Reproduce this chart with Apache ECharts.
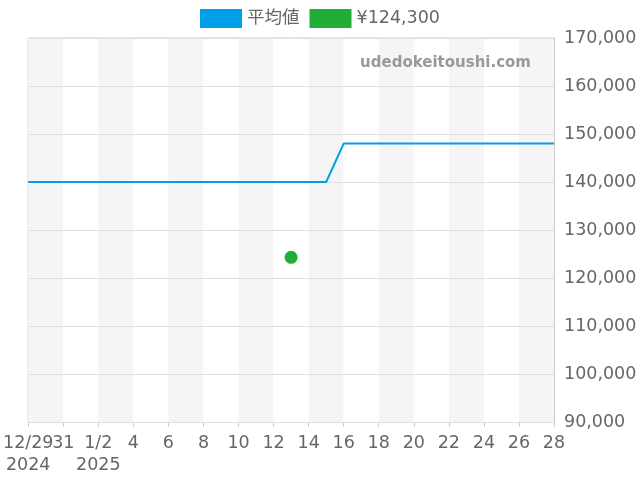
<!DOCTYPE html>
<html><head><meta charset="utf-8">
<script src="https://cdn.jsdelivr.net/npm/echarts@6/dist/echarts.min.js"></script>
<style>html,body{margin:0;padding:0;background:#fff}#c{width:640px;height:480px}</style>
</head><body><div id="c"></div>
<script>
const dates = ['2024-12-29','2024-12-30','2024-12-31','2025-01-01','2025-01-02','2025-01-03','2025-01-04','2025-01-05','2025-01-06','2025-01-07','2025-01-08','2025-01-09','2025-01-10','2025-01-11','2025-01-12','2025-01-13','2025-01-14','2025-01-15','2025-01-16','2025-01-17','2025-01-18','2025-01-19','2025-01-20','2025-01-21','2025-01-22','2025-01-23','2025-01-24','2025-01-25','2025-01-26','2025-01-27','2025-01-28'];
const avgValues = [140000,140000,140000,140000,140000,140000,140000,140000,140000,140000,140000,140000,140000,140000,140000,140000,140000,140000,148000,148000,148000,148000,148000,148000,148000,148000,148000,148000,148000,148000,148000];
const pointDate = '2025-01-13';
const pointValue = 124300;
const seriesNames = ['平均値','¥124,300'];
const yMin = 90000, yMax = 170000, yStep = 10000;

const pointData = dates.map(d => d === pointDate ? pointValue : null);
const font = 'DejaVu Sans, Noto Sans CJK JP, sans-serif';
const fs = 17.5;

const labels = dates.map((v,i)=>{
  if (i % 2 === 1) return '';
  const [y,m,d] = v.split('-').map(Number);
  if (i === 0) return m+'/'+d+'\n'+y;
  const prev = dates[i-2];
  if (prev && prev.slice(0,7) !== v.slice(0,7)) {
    if (prev.slice(0,4) !== v.slice(0,4)) return m+'/'+d+'\n'+y;
    return m+'/'+d;
  }
  return String(d);
});

const chart = echarts.init(document.getElementById('c'), null, {renderer:'canvas'});
chart.setOption({
  animation:false,
  textStyle:{fontFamily:font},
  legend:{
    top:4, left:'center', itemWidth:42, itemHeight:19, itemGap:10,
    textStyle:{fontSize:fs,color:'#666',fontFamily:font},
    data:[{name:seriesNames[0],icon:'rect'},{name:seriesNames[1],icon:'rect'}]
  },
  graphic:[{type:'text', right:109, top:56, z:100, silent:true,
    style:{text:'udedokeitoushi.com', fill:'#999', font:'bold 15px '+font}}],
  grid:{left:28,right:86,top:38,bottom:58,show:true,borderColor:'#ccc',borderWidth:1},
  xAxis:{
    type:'category', data:dates, boundaryGap:false, z:0,
    axisLine:{lineStyle:{color:'#ccc'}},
    axisTick:{interval:1,lineStyle:{color:'#ccc'},length:5},
    axisLabel:{interval:0,color:'#666',fontSize:fs,fontFamily:font,margin:10,lineHeight:22,
      hideOverlap:false,
      formatter:(v,i)=>labels[i]},
    splitLine:{show:false},
    splitArea:{show:true,interval:1,areaStyle:{color:['#f5f5f5','#ffffff']}}
  },
  yAxis:{
    type:'value', position:'right', min:yMin, max:yMax, interval:yStep, z:1,
    axisLine:{show:true,lineStyle:{color:'#ccc'}},
    axisTick:{show:false},
    axisLabel:{color:'#666',fontSize:fs,fontFamily:font,margin:10,
      formatter:v=>v.toLocaleString('en-US')},
    splitLine:{lineStyle:{color:'#e0e0e0'}}
  },
  series:[
    {name:seriesNames[0],type:'line',data:avgValues,showSymbol:false,symbol:'none',z:3,
      itemStyle:{color:'#00a0e9'},lineStyle:{color:'#00a0e9',width:2}},
    {name:seriesNames[1],type:'scatter',data:pointData,symbolSize:13,z:4,
      itemStyle:{color:'#22ac38',opacity:1}}
  ]
});
</script></body></html>
